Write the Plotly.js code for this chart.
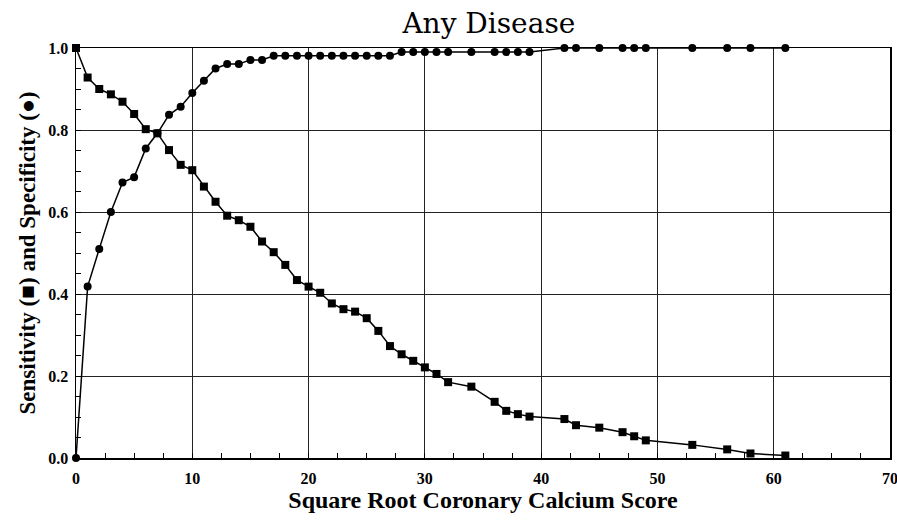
<!DOCTYPE html>
<html>
<head>
<meta charset="utf-8">
<script src="https://cdn.plot.ly/plotly-3.0.1.min.js"></script>
<style>html,body{margin:0;padding:0;background:#fff;}#chart{width:897px;height:525px;}</style>
</head>
<body>
<div id="chart"></div>
<script>
const scoreX = [0,1,2,3,4,5,6,7,8,9,10,11,12,13,14,15,16,17,18,19,20,21,22,23,24,25,26,27,28,29,30,31,32,34,36,37,38,39,42,43,45,47,48,49,53,56,58,61];
const sensitivity = [1.0,0.928,0.90,0.887,0.869,0.839,0.802,0.792,0.751,0.715,0.702,0.662,0.625,0.591,0.580,0.564,0.528,0.502,0.471,0.434,0.418,0.403,0.377,0.363,0.357,0.341,0.310,0.273,0.253,0.237,0.221,0.205,0.185,0.174,0.137,0.115,0.107,0.101,0.095,0.080,0.074,0.063,0.053,0.043,0.032,0.021,0.011,0.006];
const specificity = [0,0.418,0.51,0.60,0.672,0.685,0.755,0.792,0.837,0.857,0.89,0.92,0.95,0.961,0.961,0.971,0.971,0.981,0.981,0.981,0.981,0.981,0.981,0.981,0.981,0.981,0.981,0.981,0.99,0.99,0.99,0.99,0.99,0.99,0.99,0.99,0.99,0.99,1.0,1.0,1.0,1.0,1.0,1.0,1.0,1.0,1.0,1.0];
const xTicks = [0,10,20,30,40,50,60,70];
const yTicks = [0,0.2,0.4,0.6,0.8,1.0];
const yTickText = ['0.0','0.2','0.4','0.6','0.8','1.0'];

const serif = '"Liberation Serif", "Times New Roman", "DejaVu Serif", serif';

const traces = [
  {x: scoreX, y: sensitivity, mode: 'lines+markers', name: 'Sensitivity',
   line: {color: '#000', width: 1.5}, marker: {symbol: 'square', size: 8, color: '#000'}, cliponaxis: false},
  {x: scoreX, y: specificity, mode: 'lines+markers', name: 'Specificity',
   line: {color: '#000', width: 1.5}, marker: {symbol: 'circle', size: 8, color: '#000'}, cliponaxis: false}
];

const layout = {
  width: 897, height: 525,
  margin: {l: 76, r: 7, t: 48, b: 67},
  paper_bgcolor: '#fff', plot_bgcolor: '#fff',
  font: {family: serif, color: '#000'},
  showlegend: false,
  title: {text: 'Any Disease',
          font: {family: 'DejaVu Serif', size: 28, color: '#000', weight: 400, style: 'normal'},
          x: 0.545, xref: 'container', xanchor: 'center', y: 0.955, yref: 'container', yanchor: 'middle'},
  xaxis: {
    range: [0, 70], tickvals: xTicks, ticktext: xTicks.map(String),
    showgrid: true, gridcolor: '#222', gridwidth: 1,
    showline: true, linecolor: '#000', linewidth: 1.5, mirror: true,
    ticks: 'inside', ticklen: 5, tickcolor: '#000',
    minor: {dtick: 2.5, ticks: 'inside', ticklen: 5, tickcolor: '#000', showgrid: false},
    zeroline: false, ticklabeloverflow: 'allow', ticklabelstandoff: 5,
    tickfont: {family: serif, size: 16, color: '#000', weight: 'bold'},
    title: {text: '<b>Square Root Coronary Calcium Score</b>', font: {family: serif, size: 24, color: '#000'}, standoff: 2}
  },
  yaxis: {
    range: [0, 1], tickvals: yTicks, ticktext: yTickText,
    showgrid: true, gridcolor: '#222', gridwidth: 1,
    showline: true, linecolor: '#000', linewidth: 1.5, mirror: true,
    ticks: 'inside', ticklen: 5, tickcolor: '#000',
    minor: {dtick: 0.05, ticks: 'inside', ticklen: 5, tickcolor: '#000', showgrid: false},
    zeroline: false, ticklabelstandoff: 3,
    tickfont: {family: serif, size: 16, color: '#000', weight: 'bold'},
    title: {text: '<b>Sensitivity (■) and Specificity (●)</b>', font: {family: serif, size: 23, color: '#000'}, standoff: 6}
  }
};

Plotly.newPlot('chart', traces, layout, {displayModeBar: false, staticPlot: true});
</script>
</body>
</html>
